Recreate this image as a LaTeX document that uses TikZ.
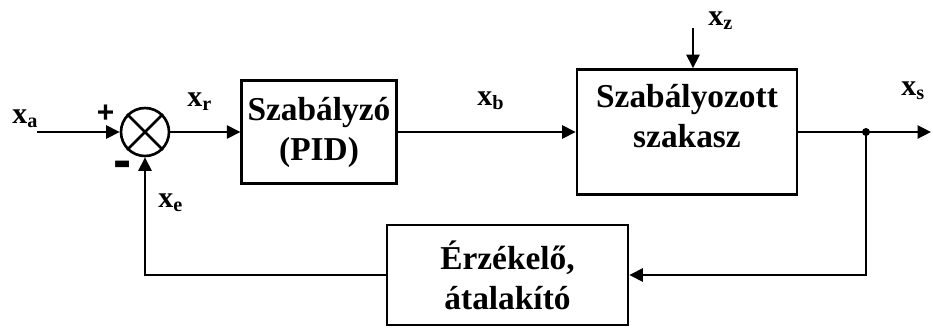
\documentclass[tikz,border=0pt]{standalone}
\usepackage{fontspec}
\setmainfont{Liberation Serif}
\newfontfamily\elojel{Liberation Sans}
\usetikzlibrary{arrows.meta}
\newcommand{\jel}[1]{x\raisebox{-0.08cm}{\fontsize{11.5}{12}\selectfont #1}}
\begin{document}
\begin{tikzpicture}
            \tikzstyle{blokk}=[draw,rectangle,line width=1.5pt]
            \tikzstyle{felirat}=[font=\bfseries\fontsize{19}{22.8}\selectfont,align=center]
            \tikzstyle{jelzes}=[font=\bfseries\fontsize{17}{20}\selectfont,inner sep=0pt,anchor=base west]
            \tikzstyle{elojelzes}=[inner sep=0pt]
            \tikzstyle{vonal}=[line width=1.5pt]
            \tikzstyle{nyil}=[line width=1.5pt,-{Triangle[length=0.27cm,width=0.26cm]}]

            \useasboundingbox (0,0) rectangle (18.66,6.54);

            %blocks
            \node[circle,draw,line width=1.5pt,minimum size=0.96cm,inner sep=0pt] (sum) at (2.9,3.9) {};
            \draw[vonal] (sum.north east)--(sum.south west);
            \draw[vonal] (sum.north west)--(sum.south east);
            \node[blokk,felirat,minimum width=2.84cm,minimum height=2.06cm] (pid) at (6.38,3.9) {Szab\'alyz\'o\\(PID)};
            \node[blokk,minimum width=4.4cm,minimum height=2.5cm] (plant) at (13.74,3.9) {};
            \node[felirat] (planttext) at (13.74,4.21) {Szab\'alyozott\\szakasz};
            \node[blokk,felirat,minimum width=4.82cm,minimum height=2.0cm] (sensor) at (10.15,1.04) {\'Erz\'ekel\H{o},\\\'atalak\'\i t\'o};

            %points
            \coordinate (be) at (0.74,3.9);
            \coordinate (zavar) at (13.86,5.98);
            \coordinate (elag) at (17.32,3.9);
            \coordinate (ki) at (18.62,3.9);

            %connections
            \draw[nyil] (be)--(sum.west);
            \draw[nyil] (sum.east)--(pid.west);
            \draw[nyil] (pid.east)--(plant.west);
            \draw[nyil] (zavar)--(zavar|-plant.north);
            \draw[nyil] (plant.east)--(ki);
            \draw[nyil] (elag)|-(sensor.east);
            \draw[nyil] (sensor.west)-|(sum.south);
            \fill (elag) circle (0.08);

            %labels
            \node[jelzes] (xa) at (0.24,4.08) {\jel{a}};
            \node[jelzes] (xr) at (3.74,4.42) {\jel{r}};
            \node[jelzes] (xb) at (9.54,4.44) {\jel{b}};
            \node[jelzes] (xe) at (3.16,2.4) {\jel{e}};
            \node[jelzes] (xz) at (14.16,6.04) {\jel{z}};
            \node[jelzes] (xs) at (18.02,4.64) {\jel{s}};
            \node[elojelzes,font=\elojel\bfseries\fontsize{17}{17}\selectfont] (plusz) at (2.11,4.27) {+};
            \node[elojelzes,font=\elojel\bfseries\fontsize{31}{31}\selectfont] (minusz) at (2.45,3.14) {-};

\end{tikzpicture}
\end{document}
